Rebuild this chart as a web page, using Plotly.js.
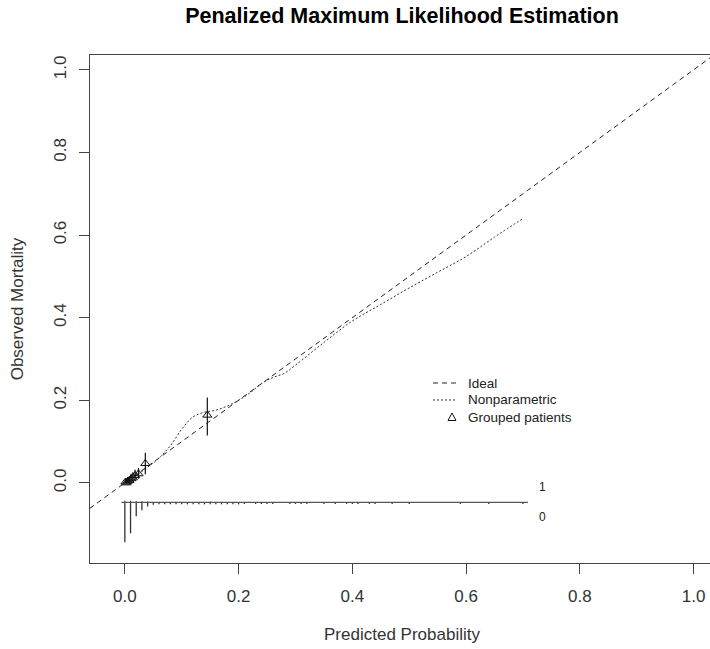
<!DOCTYPE html>
<html>
<head>
<meta charset="utf-8">
<script src="https://cdn.plot.ly/plotly-3.0.1.min.js"></script>
<style>
html,body{margin:0;padding:0;overflow:hidden;background:#fff;}
#chart{width:714px;height:649px;}
</style>
</head>
<body>
<div id="chart"></div>
<script>
// ---- data ----
var idealX = [-0.1, 1.1];
var idealY = [-0.1, 1.1];

var npX = [0.00,0.02,0.04,0.06,0.08,0.10,0.12,0.14,0.16,0.18,0.20,0.22,0.24,0.26,0.28,0.30,0.35,0.40,0.45,0.50,0.55,0.60,0.65,0.70];
var npY = [0.000,0.018,0.038,0.060,0.090,0.130,0.160,0.171,0.176,0.186,0.200,0.218,0.240,0.255,0.265,0.285,0.340,0.392,0.432,0.472,0.510,0.548,0.595,0.640];

var grpPred  = [0.001,0.003,0.005,0.008,0.011,0.014,0.018,0.024,0.036,0.145];
var grpObs   = [0.002,0.000,0.004,0.006,0.010,0.012,0.018,0.022,0.047,0.164];
var grpUpper = [0.010,0.008,0.014,0.016,0.022,0.026,0.032,0.036,0.073,0.207];
var grpLower = [0.000,0.000,0.000,0.000,0.002,0.003,0.008,0.010,0.021,0.115];

var spikeBins0 = [0.00,0.01,0.02,0.03,0.04,0.05,0.06,0.07,0.08,0.09,0.10,0.11,0.12,0.13,0.14,0.15,0.16,0.17,0.18,0.19,0.20,0.21,0.23,0.24,0.25,0.26,0.29,0.30,0.31,0.32,0.35,0.37,0.39,0.40,0.41,0.43,0.44,0.47,0.50,0.59,0.64,0.70];
var spikeH0    = [0.097,0.075,0.034,0.019,0.010,0.006,0.005,0.005,0.005,0.005,0.005,0.005,0.005,0.005,0.005,0.005,0.005,0.005,0.005,0.005,0.005,0.004,0.004,0.004,0.004,0.004,0.004,0.004,0.004,0.004,0.004,0.004,0.004,0.004,0.004,0.004,0.004,0.004,0.004,0.004,0.004,0.004];
var spikeBins1 = [0.00,0.01,0.02,0.03,0.04,0.15];
var spikeH1    = [0.004,0.004,0.003,0.003,0.002,0.002];
var spikeBase  = -0.047;
var spikeRange = [-0.006, 0.709];

var labelTitle = "Penalized Maximum Likelihood Estimation";
var xTitle = "Predicted Probability";
var yTitle = "Observed Mortality";
var legendLabels = ["Ideal", "Nonparametric", "Grouped patients"];
var tickVals = [0, 0.2, 0.4, 0.6, 0.8, 1.0];
var tickText = ["0.0","0.2","0.4","0.6","0.8","1.0"];

// ---- build spike segments ----
function spikes(bins, h, dir){
  var xs=[], ys=[];
  for (var i=0;i<bins.length;i++){
    xs.push(bins[i], bins[i], null);
    ys.push(spikeBase, spikeBase + dir*h[i], null);
  }
  return {x:xs, y:ys};
}
var s0 = spikes(spikeBins0, spikeH0, -1);
var s1 = spikes(spikeBins1, spikeH1, 1);

var font = "Liberation Sans, Arial, Helvetica, sans-serif";

var traces = [
  {x: idealX, y: idealY, mode:'lines', name:legendLabels[0], showlegend:false,
   line:{color:'#222', width:1, dash:'5px,4px'}},
  {x: npX, y: npY, mode:'lines', name:legendLabels[1], showlegend:false,
   line:{color:'#333', width:1, dash:'2px,2px', shape:'spline'}},
  {x: grpPred, y: grpObs, mode:'markers', name:legendLabels[2], showlegend:false,
   marker:{symbol:'triangle-up-open', size:8, color:'#111', line:{width:1, color:'#111'}},
   error_y:{type:'data', symmetric:false,
     array: grpUpper.map(function(u,i){return u-grpObs[i];}),
     arrayminus: grpObs.map(function(o,i){return o-grpLower[i];}),
     width:0, thickness:1.2, color:'#111'}},
  {x: s0.x, y: s0.y, mode:'lines', showlegend:false, hoverinfo:'skip', line:{color:'#333', width:1.3}, connectgaps:false},
  {x: s1.x, y: s1.y, mode:'lines', showlegend:false, hoverinfo:'skip', line:{color:'#333', width:1}, connectgaps:false},
  {x: spikeRange, y: [spikeBase, spikeBase], mode:'lines', showlegend:false, hoverinfo:'skip', line:{color:'#555', width:1.3}}
];

// legend (R-style, drawn in paper coordinates)
var legX0 = 0.5497, legX1 = 0.5865, legTextX = 0.6026, legSymX = 0.5801;
var legRows = [0.3543, 0.3209, 0.2874];
var legShapes = [
  {type:'line', xref:'paper', yref:'paper', x0:legX0, x1:legX1, y0:legRows[0], y1:legRows[0],
   line:{color:'#222', width:1, dash:'5px,4px'}},
  {type:'line', xref:'paper', yref:'paper', x0:legX0, x1:legX1, y0:legRows[1], y1:legRows[1],
   line:{color:'#333', width:1, dash:'2px,2px'}},
  {type:'path', xref:'paper', yref:'paper',
   path:'M '+(legSymX-0.0064)+','+(legRows[2]-0.0069)+' L '+(legSymX+0.0064)+','+(legRows[2]-0.0069)+' L '+legSymX+','+(legRows[2]+0.0079)+' Z',
   line:{color:'#111', width:1}, fillcolor:'rgba(0,0,0,0)'}
];
var legAnn = legendLabels.map(function(t,i){
  return {x:legTextX, y:legRows[i], xref:'paper', yref:'paper', xanchor:'left', yanchor:'middle',
          text:t, showarrow:false, font:{family:font, size:13.5, color:'#222'}};
});

var layout = {
  width: 714, height: 649,
  margin: {l:90, r:0, t:55, b:86},
  paper_bgcolor:'#fff', plot_bgcolor:'#fff',
  font: {family: font, color:'#222'},
  title: {text: '<b>'+labelTitle+'</b>', font:{family:font, size:21.5, color:'#000'},
          x:0.5, xref:'paper', y:1-15/649, yref:'container', yanchor:'middle'},
  showlegend: false,
  xaxis: {range:[-0.0613, 1.036], showgrid:false, zeroline:false,
          showline:true, mirror:true, linecolor:'#444', linewidth:1,
          ticks:'outside', ticklen:10, tickcolor:'#444', tickwidth:1,
          tickvals: tickVals, ticktext: tickText, ticklabelstandoff: 8,
          tickfont:{family:font, size:17, color:'#333'},
          title:{text:xTitle, font:{family:font, size:17, color:'#333'}, standoff:22}},
  yaxis: {range:[-0.194, 1.036], showgrid:false, zeroline:false,
          showline:true, mirror:false, linecolor:'#444', linewidth:1,
          ticks:'outside', ticklen:10, tickcolor:'#444', tickwidth:1,
          tickvals: tickVals, ticktext: tickText, tickangle:-90, ticklabelstandoff: 6,
          tickfont:{family:font, size:17, color:'#333'},
          title:{text:yTitle, font:{family:font, size:17, color:'#333'}, standoff:23}},
  shapes: legShapes,
  annotations: [
    {x:0.735, y:-0.010, xref:'x', yref:'y', text:'1', showarrow:false, font:{family:font, size:12, color:'#222'}},
    {x:0.735, y:-0.082, xref:'x', yref:'y', text:'0', showarrow:false, font:{family:font, size:12, color:'#222'}}
  ].concat(legAnn)
};

Plotly.newPlot('chart', traces, layout, {displayModeBar:false, staticPlot:true});
</script>
</body>
</html>
